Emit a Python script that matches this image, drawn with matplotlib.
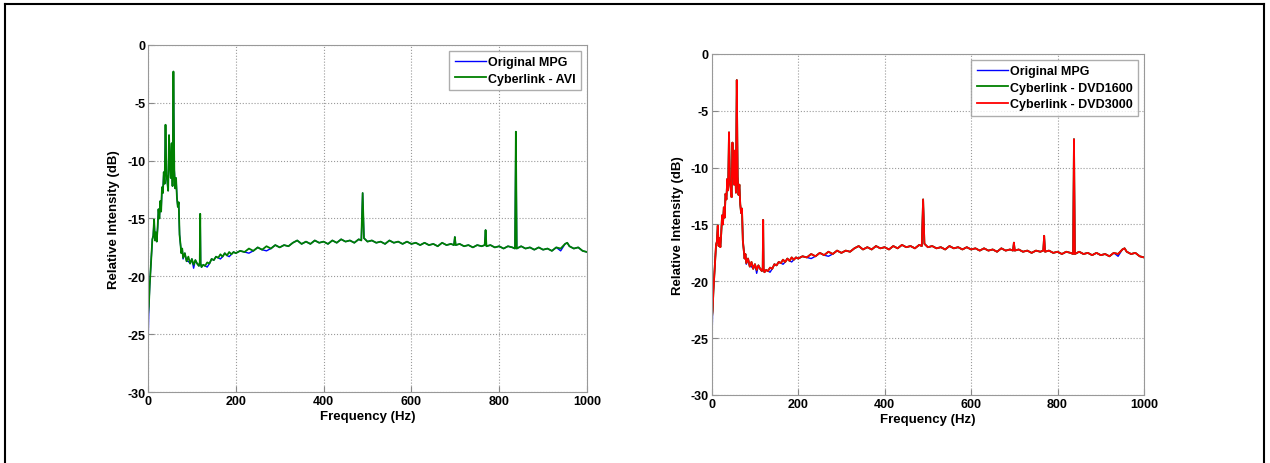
import matplotlib
matplotlib.use("Agg")
from matplotlib import pyplot as plt
from matplotlib.lines import Line2D

plt.rcParams['font.family'] = ['Liberation Sans', 'DejaVu Sans']
plt.rcParams['font.weight'] = 'bold'
plt.rcParams['axes.unicode_minus'] = False

# частоты спектра, Гц
freq = [0, 2, 4, 6, 8, 10, 12, 14, 16, 18, 20, 22, 24, 26, 28, 30, 32, 34, 36, 38,
        40, 42, 44, 46, 48, 50, 52, 54, 56, 58, 60, 62, 64, 66, 68, 70, 72, 74, 76, 78,
        80, 84, 88, 92, 96, 100, 104, 108, 112, 116, 118, 119, 120, 122, 126, 130, 135,
        140, 145, 150, 155, 160, 165, 170, 175, 180, 185, 190, 195,
        200, 210, 220, 230, 240, 250, 260, 270, 280, 290, 300, 310, 320, 330, 340, 350,
        360, 370, 380, 390, 400, 410, 420, 430, 440, 450, 460, 470, 480, 486, 489, 492,
        500, 510, 520, 530, 540, 550, 560, 570, 580, 590, 600, 610, 620, 630, 640, 650,
        660, 670, 680, 690, 697, 699, 701, 710, 720, 730, 740, 750, 760, 767, 769, 771,
        780, 790, 800, 810, 820, 830, 836, 838, 840, 850, 860, 870, 880, 890, 900, 910,
        920, 930, 940, 950, 955, 960, 970, 980, 990, 1000]

# перекодированное видео (Cyberlink), дБ
avi_db = [-23.4, -22.6, -20.8, -19.5, -18.3, -16.8, -16.5, -15.1, -16.9, -16.2,
          -17.0, -15.8, -14.2, -15.0, -13.5, -14.4, -12.3, -12.8, -11.0, -12.0,
          -6.9, -11.2, -11.8, -12.6, -7.8, -10.2, -11.5, -8.5, -12.2, -2.3,
          -10.8, -12.4, -11.5, -13.2, -14.0, -13.6, -16.4, -17.2, -18.0, -17.6,
          -18.4, -18.0, -18.7, -18.3, -18.9, -18.5, -19.0, -18.6, -18.9, -19.1,
          -18.8, -14.6, -18.9, -19.2, -19.0, -19.1, -18.8,
          -18.9, -18.5, -18.6, -18.3, -18.4, -18.1, -18.3, -18.0, -18.2, -17.9, -18.1, -17.9,
          -18.0, -17.8, -17.9, -17.6, -17.8, -17.5, -17.7, -17.4, -17.6, -17.3, -17.5,
          -17.3, -17.4, -17.1, -16.9, -17.2, -17.0, -17.2, -16.9, -17.1, -17.0, -17.2,
          -16.9, -17.1, -16.8, -17.0, -16.9, -17.1, -16.8, -16.9, -12.8, -16.7,
          -17.0, -16.9, -17.1, -17.0, -17.2, -16.9, -17.1, -17.0, -17.2, -17.0, -17.2,
          -17.1, -17.3, -17.1, -17.3, -17.2, -17.4, -17.1, -17.3, -17.2, -17.3, -16.6,
          -17.3, -17.2, -17.4, -17.3, -17.5, -17.3, -17.4, -17.3, -16.0, -17.4,
          -17.3, -17.5, -17.4, -17.6, -17.4, -17.5, -17.6, -7.5, -17.6, -17.4, -17.6,
          -17.5, -17.7, -17.5, -17.7, -17.6, -17.8, -17.5, -17.6, -17.2, -17.1, -17.4,
          -17.6, -17.5, -17.8, -17.9]

# исходный MPG, дБ
orig_db = [-26.5, -22.8, -20.8, -19.5, -18.3, -16.8, -16.5, -15.1, -16.9, -16.2,
           -17.0, -15.8, -14.2, -15.0, -13.5, -14.4, -12.3, -12.8, -11.0, -12.0,
           -6.9, -11.2, -11.8, -12.6, -7.8, -10.2, -11.5, -8.5, -12.2, -2.3,
           -10.8, -12.4, -11.5, -13.2, -14.0, -13.6, -16.4, -17.2, -18.0, -17.6,
           -18.5, -18.0, -18.7, -18.7, -18.9, -18.5, -19.3, -18.6, -18.9, -19.1,
           -18.8, -14.6, -18.9, -19.2, -19.0, -19.1, -19.2,
           -18.9, -18.5, -18.6, -18.3, -18.4, -18.5, -18.3, -18.0, -18.2, -18.3, -18.1, -17.9,
           -18.0, -17.8, -17.9, -18.0, -17.8, -17.5, -17.7, -17.8, -17.6, -17.3, -17.5,
           -17.3, -17.4, -17.1, -16.9, -17.2, -17.0, -17.2, -16.9, -17.1, -17.0, -17.2,
           -16.9, -17.1, -16.8, -17.0, -16.9, -17.1, -16.8, -16.9, -12.8, -16.7,
           -17.0, -16.9, -17.1, -17.0, -17.2, -16.9, -17.1, -17.0, -17.2, -17.0, -17.2,
           -17.1, -17.3, -17.1, -17.3, -17.2, -17.4, -17.1, -17.3, -17.2, -17.3, -16.6,
           -17.3, -17.2, -17.4, -17.3, -17.5, -17.3, -17.4, -17.3, -16.0, -17.4,
           -17.3, -17.5, -17.4, -17.6, -17.4, -17.5, -17.6, -7.5, -17.6, -17.4, -17.6,
           -17.5, -17.7, -17.5, -17.7, -17.6, -17.8, -17.5, -17.8, -17.2, -17.1, -17.4,
           -17.6, -17.5, -17.8, -17.9]

dvd1600_db = avi_db
dvd3000_db = avi_db

fig = plt.figure(figsize=(12.7, 4.64), dpi=100)

# рамка вокруг рисунка
for xs, ys in [([0.004, 0.004], [0.0, 0.989]), ([0.004, 0.995], [0.989, 0.989]),
               ([0.995, 0.995], [0.0, 0.989])]:
    fig.add_artist(Line2D(xs, ys, color='black', lw=1.5, transform=fig.transFigure))


def style_axes(ax):
    ax.set_xlim(0, 1000)
    ax.set_ylim(-30, 0)
    ax.set_xticks([0, 200, 400, 600, 800, 1000])
    ax.set_yticks([0, -5, -10, -15, -20, -25, -30])
    ax.grid(True, linestyle=':', color='#9a9a9a', lw=0.8)
    ax.tick_params(direction='in', length=4, color='#888888', labelsize=9, pad=2)
    for s in ax.spines.values():
        s.set_color('#999999')
    ax.set_xlabel('Frequency (Hz)', fontsize=9.5, fontweight='bold', labelpad=2)
    ax.set_ylabel('Relative Intensity (dB)', fontsize=9.5, fontweight='bold', labelpad=5)


def add_legend(ax):
    ax.legend(loc='upper right', fontsize=9, frameon=True, fancybox=False,
              edgecolor='#999999', handlelength=2.5, handletextpad=0.15,
              borderpad=0.45, labelspacing=0.35, borderaxespad=0.45)


ax1 = fig.add_axes([0.1165, 0.153, 0.3457, 0.748])
ax1.plot(freq, orig_db, color='#0000ff', lw=1.0, label='Original MPG')
ax1.plot(freq, avi_db, color='#008000', lw=1.3, label='Cyberlink - AVI')
style_axes(ax1)
add_legend(ax1)

ax2 = fig.add_axes([0.5604, 0.1466, 0.3404, 0.735])
ax2.plot(freq, orig_db, color='#0000ff', lw=1.0, label='Original MPG')
ax2.plot(freq, dvd1600_db, color='#008000', lw=1.3, label='Cyberlink - DVD1600')
ax2.plot(freq, dvd3000_db, color='#ff0000', lw=1.3, label='Cyberlink - DVD3000')
style_axes(ax2)
add_legend(ax2)

fig.savefig('out.png', dpi=100)
